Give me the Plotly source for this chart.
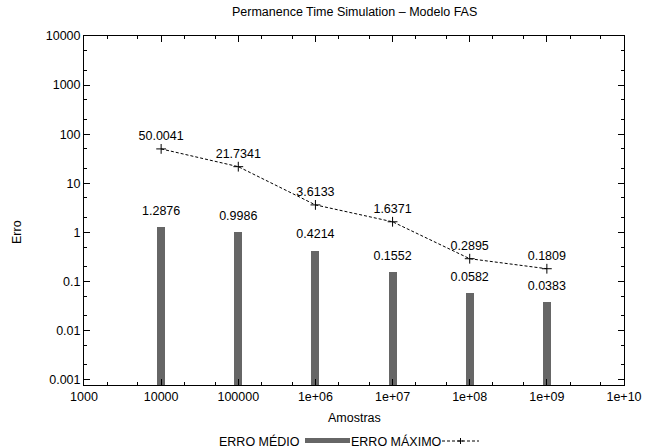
import numpy as np
import plotly.graph_objects as go

# ---- data ----
amostras = [1e4, 1e5, 1e6, 1e7, 1e8, 1e9]
erro_medio = [1.2876, 0.9986, 0.4214, 0.1552, 0.0582, 0.0383]
erro_maximo = [50.0041, 21.7341, 3.6133, 1.6371, 0.2895, 0.1809]
x_tickvals = [1e3, 1e4, 1e5, 1e6, 1e7, 1e8, 1e9, 1e10]
x_ticktext = ["1000", "10000", "100000", "1e+06", "1e+07", "1e+08", "1e+09", "1e+10"]
y_tickvals = [1e-3, 1e-2, 1e-1, 1, 10, 100, 1000, 10000]
y_ticktext = ["0.001", "0.01", "0.1", "1", "10", "100", "1000", "10000"]

FONT = "Liberation Sans"
FS = 12.5
BAR_COLOR = "#666666"

W, H = 645, 448
ML, MR, MT, MB = 84, 21, 36, 63
PW = W - ML - MR
PH = H - MT - MB

def px(xp):
    return (xp - ML) / PW

def py(yp):
    return (H - MB - yp) / PH

# bar half width in decades (log-symmetric bars)
h = 0.052
xs = np.array(amostras)
bar_offset = list(xs * 10 ** (-h) - xs)
bar_width = list(xs * 10 ** h - xs * 10 ** (-h))

fig = go.Figure()
fig.add_trace(go.Bar(
    x=amostras, y=erro_medio, offset=bar_offset, width=bar_width,
    marker=dict(color=BAR_COLOR, line=dict(width=0)), showlegend=False,
))
fig.add_trace(go.Scatter(
    x=amostras, y=erro_medio, mode="markers+text",
    text=[f"{v:.4f}" for v in erro_medio], textposition="top center",
    marker=dict(size=13, opacity=0), textfont=dict(family=FONT, size=FS, color="black"),
    showlegend=False, cliponaxis=False,
))
fig.add_trace(go.Scatter(
    x=amostras, y=erro_maximo, mode="lines+markers+text",
    text=[f"{v:.4f}" for v in erro_maximo], textposition="top center",
    line=dict(color="black", width=1, dash="3px,2px"),
    marker=dict(symbol="cross-thin", size=7, line=dict(color="black", width=1)),
    textfont=dict(family=FONT, size=FS, color="black"),
    showlegend=False, cliponaxis=False,
))

axis_common = dict(
    showline=True, linecolor="black", linewidth=1, mirror="ticks",
    ticks="inside", ticklen=6, tickwidth=1, tickcolor="black",
    showgrid=False, zeroline=False,
    tickfont=dict(family=FONT, size=FS, color="black"),
    minor=dict(ticks="inside", ticklen=3, tickwidth=1, tickcolor="black", dtick="D2", showgrid=False),
)

fig.update_xaxes(type="log", range=[3, 10], tickmode="array", tickvals=x_tickvals,
                 ticktext=x_ticktext, **axis_common)
fig.update_yaxes(type="log", range=[-3.112, 4], tickmode="array", tickvals=y_tickvals,
                 ticktext=y_ticktext, **axis_common)

ann = [
    dict(text="Permanence Time Simulation \u2013 Modelo FAS", x=0.5, y=py(12),
         xanchor="center", yanchor="middle"),
    dict(text="Amostras", x=0.5, y=py(418), xanchor="center", yanchor="middle"),
    dict(text="Erro", x=px(17), y=py(232), xanchor="center", yanchor="middle", textangle=-90),
    dict(text="ERRO MÉDIO", x=px(302), y=py(441), xanchor="right", yanchor="middle"),
    dict(text="ERRO MÁXIMO", x=px(349), y=py(441), xanchor="left", yanchor="middle"),
]
for a in ann:
    a.update(xref="paper", yref="paper", showarrow=False,
             font=dict(family=FONT, size=FS, color="black"))

shapes = [
    dict(type="rect", xref="paper", yref="paper", x0=px(305), x1=px(350),
         y0=py(443), y1=py(438), fillcolor=BAR_COLOR, line=dict(width=0)),
    dict(type="line", xref="paper", yref="paper", x0=px(442), x1=px(479),
         y0=py(441), y1=py(441), line=dict(color="black", width=1, dash="3px,2px")),
    dict(type="line", xref="paper", yref="paper", x0=px(457.5), x1=px(463.5),
         y0=py(441), y1=py(441), line=dict(color="black", width=1)),
    dict(type="line", xref="paper", yref="paper", x0=px(460.5), x1=px(460.5),
         y0=py(438), y1=py(444), line=dict(color="black", width=1)),
]

fig.update_layout(
    width=W, height=H, margin=dict(l=ML, r=MR, t=MT, b=MB, autoexpand=False),
    paper_bgcolor="white", plot_bgcolor="white",
    annotations=ann, shapes=shapes, showlegend=False, bargap=0,
    font=dict(family=FONT, size=FS, color="black"),
)

fig.write_html("out.html")
